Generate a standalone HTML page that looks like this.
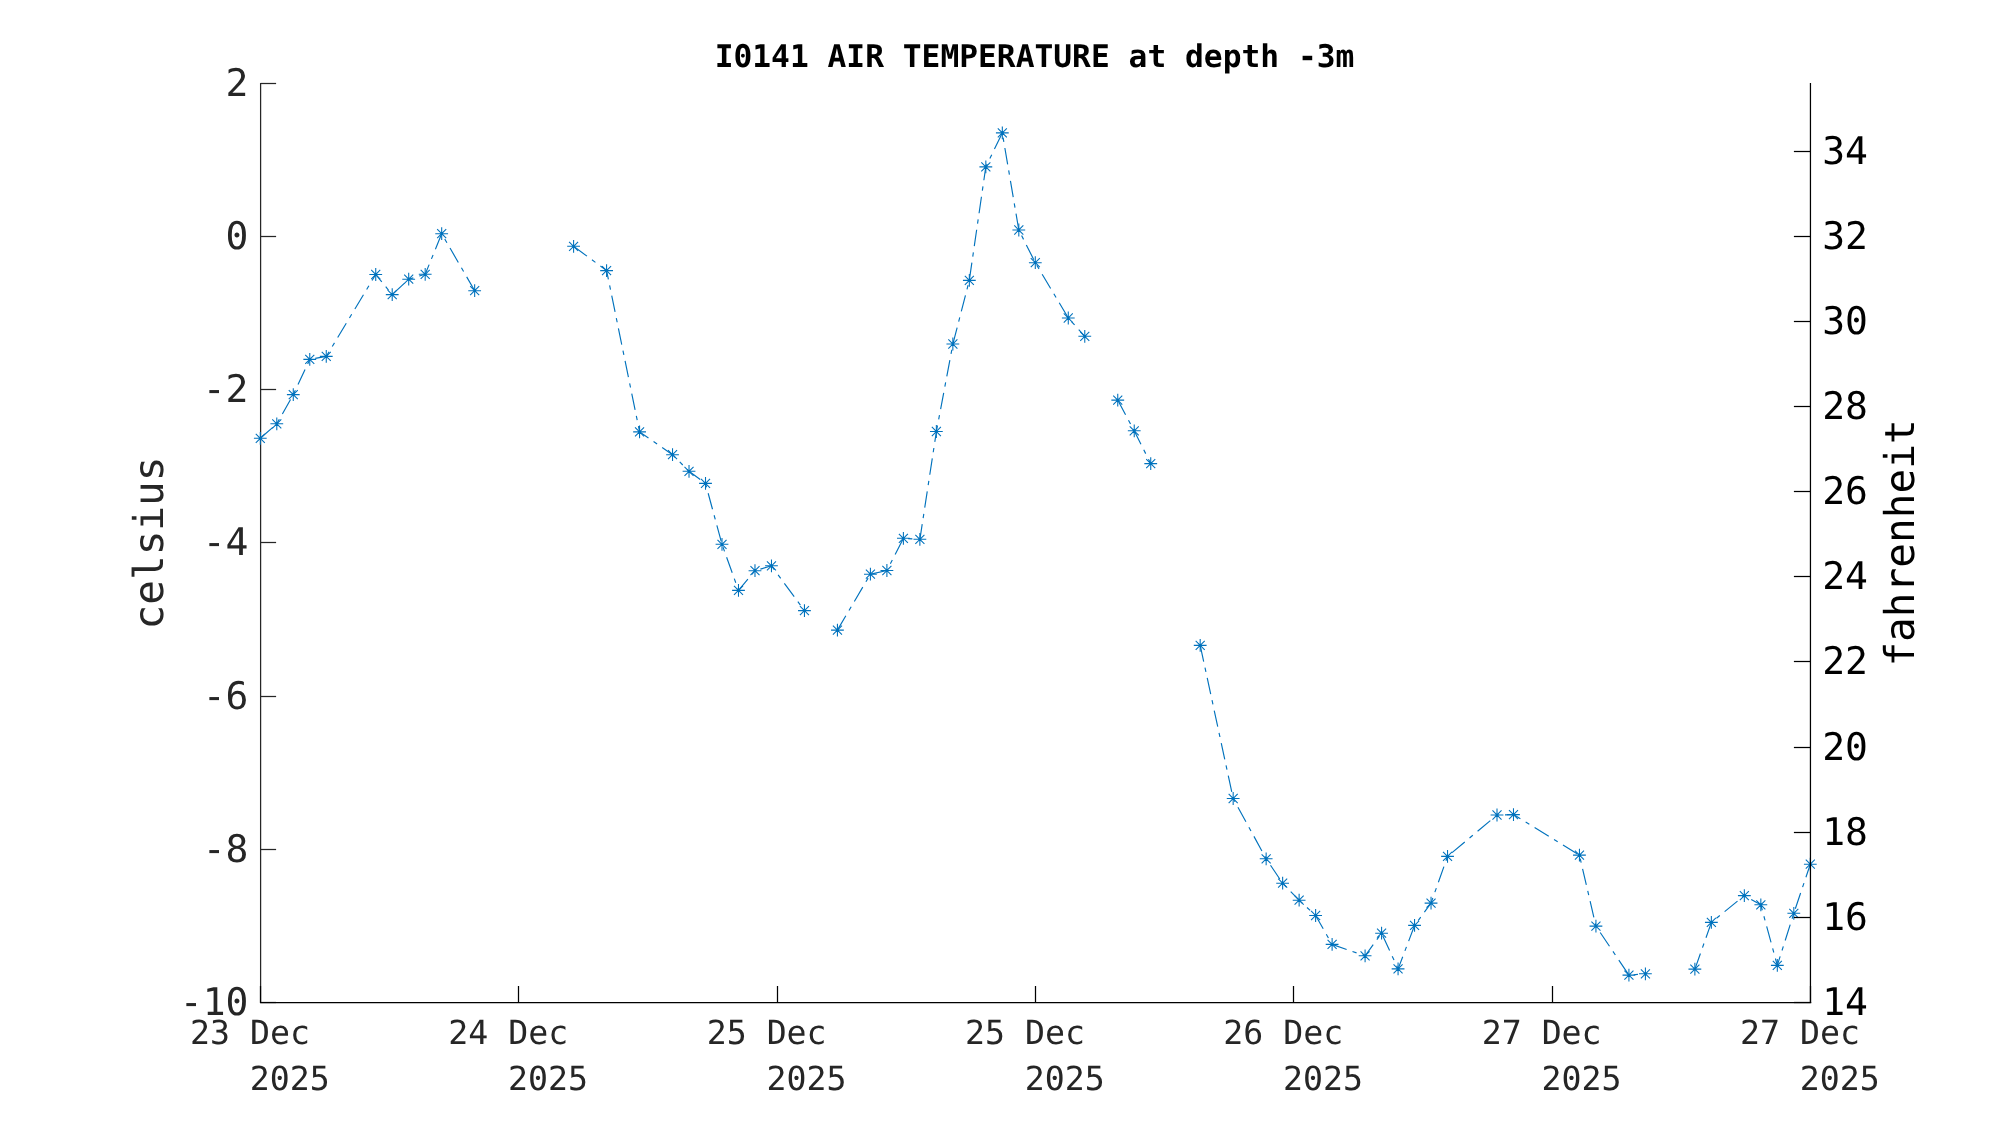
<!DOCTYPE html>
<html lang="en"><head><meta charset="utf-8"><title>I0141 AIR TEMPERATURE at depth -3m</title>
<style>
html,body{margin:0;padding:0;background:#fff;}
body{width:2000px;height:1125px;overflow:hidden;}
svg{display:block;will-change:transform;}
text{font-family:"DejaVu Sans Mono", "Liberation Mono", monospace;text-rendering:geometricPrecision;}
</style></head><body>
<svg width="2000" height="1125" viewBox="0 0 2000 1125">
<rect x="0" y="0" width="2000" height="1125" fill="#ffffff"/>
<text x="1034.5" y="67.0" text-anchor="middle" font-size="31.25" font-weight="bold" fill="#000">I0141 AIR TEMPERATURE at depth -3m</text>
<g stroke="#262626" stroke-width="1.25" fill="none">
<path d="M260.6 82.9V1003.1"/>
<path d="M260.6 83.50h15.5"/>
<path d="M260.6 236.50h15.5"/>
<path d="M260.6 389.50h15.5"/>
<path d="M260.6 542.50h15.5"/>
<path d="M260.6 696.50h15.5"/>
<path d="M260.6 849.50h15.5"/>
<path d="M260.6 1002.50h15.5"/>
</g>
<g fill="none" stroke="#0072BD" stroke-width="1.15" stroke-dasharray="16.6 6.2 4.3 6.2" stroke-linejoin="round">
<polyline points="260.3,438.3 276.8,423.8 293.3,394.6 309.8,359.4 326.3,356.4 375.7,274.5 392.2,294.6 408.7,279.2 425.2,274.3 441.7,233.7 474.7,290.7"/>
<polyline points="573.6,246.3 606.6,270.6 639.6,431.9 672.5,454.7 689.0,471.3 705.5,483.4 722.0,544.3 738.5,590.4 755.0,570.7 771.5,565.8 804.4,610.6"/>
<polyline points="837.4,630.1 870.4,574.2 886.9,570.5 903.4,538.3 919.9,539.3 936.4,431.5 952.9,344.0 969.3,280.4 985.8,166.9 1002.3,132.9 1018.8,230.0 1035.3,262.7 1068.3,318.0 1084.8,336.3"/>
<polyline points="1117.7,400.1 1134.2,430.8 1150.7,463.6"/>
<polyline points="1200.2,645.4 1233.2,798.5 1266.2,858.8 1282.6,883.2 1299.1,900.2 1315.6,915.5 1332.1,944.4 1365.1,955.8 1381.6,933.2 1398.1,968.9 1414.6,925.4 1431.0,903.1 1447.5,856.4 1497.0,815.0 1513.5,814.6 1579.4,855.1 1595.9,926.1 1628.9,975.1 1645.4,973.8"/>
<polyline points="1694.9,969.1 1711.4,922.4 1744.3,895.6 1760.8,904.8 1777.3,965.4 1793.8,913.3 1810.3,864.2"/>
</g>
<path fill="none" stroke="#0072BD" stroke-width="1.08" stroke-linecap="butt" d="M253.90 438.30H266.70M260.30 431.90V444.70M255.77 433.77L264.83 442.83M255.77 442.83L264.83 433.77M270.39 423.80H283.19M276.79 417.40V430.20M272.26 419.27L281.31 428.33M272.26 428.33L281.31 419.27M286.88 394.60H299.68M293.28 388.20V401.00M288.75 390.07L297.80 399.13M288.75 399.13L297.80 390.07M303.37 359.40H316.17M309.77 353.00V365.80M305.24 354.87L314.29 363.93M305.24 363.93L314.29 354.87M319.86 356.40H332.66M326.26 350.00V362.80M321.73 351.87L330.78 360.93M321.73 360.93L330.78 351.87M369.33 274.50H382.13M375.73 268.10V280.90M371.20 269.97L380.25 279.03M371.20 279.03L380.25 269.97M385.81 294.60H398.61M392.21 288.20V301.00M387.69 290.07L396.74 299.13M387.69 299.13L396.74 290.07M402.30 279.20H415.10M408.70 272.80V285.60M404.18 274.67L413.23 283.73M404.18 283.73L413.23 274.67M418.79 274.30H431.59M425.19 267.90V280.70M420.67 269.77L429.72 278.83M420.67 278.83L429.72 269.77M435.28 233.70H448.08M441.68 227.30V240.10M437.16 229.17L446.21 238.23M437.16 238.23L446.21 229.17M468.26 290.70H481.06M474.66 284.30V297.10M470.14 286.17L479.19 295.23M470.14 295.23L479.19 286.17M567.20 246.30H580.00M573.60 239.90V252.70M569.07 241.77L578.12 250.83M569.07 250.83L578.12 241.77M600.18 270.60H612.98M606.58 264.20V277.00M602.05 266.07L611.10 275.13M602.05 275.13L611.10 266.07M633.16 431.90H645.96M639.56 425.50V438.30M635.03 427.37L644.08 436.43M635.03 436.43L644.08 427.37M666.13 454.70H678.93M672.53 448.30V461.10M668.01 450.17L677.06 459.23M668.01 459.23L677.06 450.17M682.62 471.30H695.42M689.02 464.90V477.70M684.50 466.77L693.55 475.83M684.50 475.83L693.55 466.77M699.11 483.40H711.91M705.51 477.00V489.80M700.99 478.87L710.04 487.93M700.99 487.93L710.04 478.87M715.60 544.30H728.40M722.00 537.90V550.70M717.48 539.77L726.53 548.83M717.48 548.83L726.53 539.77M732.09 590.40H744.89M738.49 584.00V596.80M733.97 585.87L743.02 594.93M733.97 594.93L743.02 585.87M748.58 570.70H761.38M754.98 564.30V577.10M750.46 566.17L759.51 575.23M750.46 575.23L759.51 566.17M765.07 565.80H777.87M771.47 559.40V572.20M766.94 561.27L776.00 570.33M766.94 570.33L776.00 561.27M798.05 610.60H810.85M804.45 604.20V617.00M799.92 606.07L808.97 615.13M799.92 615.13L808.97 606.07M831.03 630.10H843.83M837.43 623.70V636.50M832.90 625.57L841.95 634.63M832.90 634.63L841.95 625.57M864.01 574.20H876.81M870.41 567.80V580.60M865.88 569.67L874.93 578.73M865.88 578.73L874.93 569.67M880.50 570.50H893.30M886.90 564.10V576.90M882.37 565.97L891.42 575.03M882.37 575.03L891.42 565.97M896.99 538.30H909.79M903.39 531.90V544.70M898.86 533.77L907.91 542.83M898.86 542.83L907.91 533.77M913.47 539.30H926.27M919.87 532.90V545.70M915.35 534.77L924.40 543.83M915.35 543.83L924.40 534.77M929.96 431.50H942.76M936.36 425.10V437.90M931.84 426.97L940.89 436.03M931.84 436.03L940.89 426.97M946.45 344.00H959.25M952.85 337.60V350.40M948.33 339.47L957.38 348.53M948.33 348.53L957.38 339.47M962.94 280.40H975.74M969.34 274.00V286.80M964.82 275.87L973.87 284.93M964.82 284.93L973.87 275.87M979.43 166.90H992.23M985.83 160.50V173.30M981.31 162.37L990.36 171.43M981.31 171.43L990.36 162.37M995.92 132.90H1008.72M1002.32 126.50V139.30M997.80 128.37L1006.85 137.43M997.80 137.43L1006.85 128.37M1012.41 230.00H1025.21M1018.81 223.60V236.40M1014.29 225.47L1023.34 234.53M1014.29 234.53L1023.34 225.47M1028.90 262.70H1041.70M1035.30 256.30V269.10M1030.77 258.17L1039.83 267.23M1030.77 267.23L1039.83 258.17M1061.88 318.00H1074.68M1068.28 311.60V324.40M1063.75 313.47L1072.80 322.53M1063.75 322.53L1072.80 313.47M1078.37 336.30H1091.17M1084.77 329.90V342.70M1080.24 331.77L1089.29 340.83M1080.24 340.83L1089.29 331.77M1111.35 400.10H1124.15M1117.75 393.70V406.50M1113.22 395.57L1122.27 404.63M1113.22 404.63L1122.27 395.57M1127.84 430.80H1140.64M1134.24 424.40V437.20M1129.71 426.27L1138.76 435.33M1129.71 435.33L1138.76 426.27M1144.33 463.60H1157.13M1150.73 457.20V470.00M1146.20 459.07L1155.25 468.13M1146.20 468.13L1155.25 459.07M1193.79 645.40H1206.59M1200.19 639.00V651.80M1195.67 640.87L1204.72 649.93M1195.67 649.93L1204.72 640.87M1226.77 798.50H1239.57M1233.17 792.10V804.90M1228.65 793.97L1237.70 803.03M1228.65 803.03L1237.70 793.97M1259.75 858.80H1272.55M1266.15 852.40V865.20M1261.63 854.27L1270.68 863.33M1261.63 863.33L1270.68 854.27M1276.24 883.20H1289.04M1282.64 876.80V889.60M1278.11 878.67L1287.17 887.73M1278.11 887.73L1287.17 878.67M1292.73 900.20H1305.53M1299.13 893.80V906.60M1294.60 895.67L1303.66 904.73M1294.60 904.73L1303.66 895.67M1309.22 915.50H1322.02M1315.62 909.10V921.90M1311.09 910.97L1320.14 920.03M1311.09 920.03L1320.14 910.97M1325.71 944.40H1338.51M1332.11 938.00V950.80M1327.58 939.87L1336.63 948.93M1327.58 948.93L1336.63 939.87M1358.69 955.80H1371.49M1365.09 949.40V962.20M1360.56 951.27L1369.61 960.33M1360.56 960.33L1369.61 951.27M1375.18 933.20H1387.98M1381.58 926.80V939.60M1377.05 928.67L1386.10 937.73M1377.05 937.73L1386.10 928.67M1391.67 968.90H1404.47M1398.07 962.50V975.30M1393.54 964.37L1402.59 973.43M1393.54 973.43L1402.59 964.37M1408.16 925.40H1420.96M1414.56 919.00V931.80M1410.03 920.87L1419.08 929.93M1410.03 929.93L1419.08 920.87M1424.64 903.10H1437.44M1431.04 896.70V909.50M1426.52 898.57L1435.57 907.63M1426.52 907.63L1435.57 898.57M1441.13 856.40H1453.93M1447.53 850.00V862.80M1443.01 851.87L1452.06 860.93M1443.01 860.93L1452.06 851.87M1490.60 815.00H1503.40M1497.00 808.60V821.40M1492.48 810.47L1501.53 819.53M1492.48 819.53L1501.53 810.47M1507.09 814.60H1519.89M1513.49 808.20V821.00M1508.97 810.07L1518.02 819.13M1508.97 819.13L1518.02 810.07M1573.05 855.10H1585.85M1579.45 848.70V861.50M1574.92 850.57L1583.97 859.63M1574.92 859.63L1583.97 850.57M1589.54 926.10H1602.34M1595.94 919.70V932.50M1591.41 921.57L1600.46 930.63M1591.41 930.63L1600.46 921.57M1622.52 975.10H1635.32M1628.92 968.70V981.50M1624.39 970.57L1633.44 979.63M1624.39 979.63L1633.44 970.57M1639.01 973.80H1651.81M1645.41 967.40V980.20M1640.88 969.27L1649.93 978.33M1640.88 978.33L1649.93 969.27M1688.47 969.10H1701.27M1694.87 962.70V975.50M1690.35 964.57L1699.40 973.63M1690.35 973.63L1699.40 964.57M1704.96 922.40H1717.76M1711.36 916.00V928.80M1706.84 917.87L1715.89 926.93M1706.84 926.93L1715.89 917.87M1737.94 895.60H1750.74M1744.34 889.20V902.00M1739.82 891.07L1748.87 900.13M1739.82 900.13L1748.87 891.07M1754.43 904.80H1767.23M1760.83 898.40V911.20M1756.31 900.27L1765.36 909.33M1756.31 909.33L1765.36 900.27M1770.92 965.40H1783.72M1777.32 959.00V971.80M1772.80 960.87L1781.85 969.93M1772.80 969.93L1781.85 960.87M1787.41 913.30H1800.21M1793.81 906.90V919.70M1789.29 908.77L1798.34 917.83M1789.29 917.83L1798.34 908.77M1803.90 864.20H1816.70M1810.30 857.80V870.60M1805.77 859.67L1814.83 868.73M1805.77 868.73L1814.83 859.67"/>
<g stroke="#000" stroke-width="1.25" fill="none">
<path d="M259.95000000000005 1002.5H1811.25"/>
<path d="M1810.4499999999998 82.9V1003.1"/>
<path d="M260.50 1002.5v-16.5"/>
<path d="M518.50 1002.5v-16.5"/>
<path d="M777.50 1002.5v-16.5"/>
<path d="M1035.50 1002.5v-16.5"/>
<path d="M1293.50 1002.5v-16.5"/>
<path d="M1552.50 1002.5v-16.5"/>
<path d="M1810.50 1002.5v-16.5"/>
<path d="M1810.6 1002.50h-16.7"/>
<path d="M1810.6 917.50h-16.7"/>
<path d="M1810.6 832.50h-16.7"/>
<path d="M1810.6 747.50h-16.7"/>
<path d="M1810.6 661.50h-16.7"/>
<path d="M1810.6 576.50h-16.7"/>
<path d="M1810.6 491.50h-16.7"/>
<path d="M1810.6 406.50h-16.7"/>
<path d="M1810.6 321.50h-16.7"/>
<path d="M1810.6 236.50h-16.7"/>
<path d="M1810.6 151.50h-16.7"/>
</g>
<g font-size="38.0" fill="#262626" text-anchor="end">
<text transform="translate(248.5 95.8) scale(1 1.0)">2</text>
<text transform="translate(248.5 248.8) scale(1 1.0)">0</text>
<text transform="translate(248.5 401.8) scale(1 1.0)">-2</text>
<text transform="translate(248.5 554.8) scale(1 1.0)">-4</text>
<text transform="translate(248.5 708.8) scale(1 1.0)">-6</text>
<text transform="translate(248.5 861.8) scale(1 1.0)">-8</text>
<text transform="translate(248.5 1014.8) scale(1 1.0)">-10</text>
</g>
<g font-size="38.0" fill="#000" text-anchor="start">
<text transform="translate(1822.2 1014.8) scale(1 1.0)">14</text>
<text transform="translate(1822.2 929.8) scale(1 1.0)">16</text>
<text transform="translate(1822.2 844.8) scale(1 1.0)">18</text>
<text transform="translate(1822.2 759.8) scale(1 1.0)">20</text>
<text transform="translate(1822.2 673.8) scale(1 1.0)">22</text>
<text transform="translate(1822.2 588.8) scale(1 1.0)">24</text>
<text transform="translate(1822.2 503.8) scale(1 1.0)">26</text>
<text transform="translate(1822.2 418.8) scale(1 1.0)">28</text>
<text transform="translate(1822.2 333.8) scale(1 1.0)">30</text>
<text transform="translate(1822.2 248.8) scale(1 1.0)">32</text>
<text transform="translate(1822.2 163.8) scale(1 1.0)">34</text>
</g>
<g font-size="33.2" fill="#262626" text-anchor="start">
<text x="190.0" y="1044.2">23 Dec</text>
<text x="249.8" y="1090.0">2025</text>
<text x="448.3" y="1044.2">24 Dec</text>
<text x="508.1" y="1090.0">2025</text>
<text x="706.7" y="1044.2">25 Dec</text>
<text x="766.5" y="1090.0">2025</text>
<text x="965.0" y="1044.2">25 Dec</text>
<text x="1024.8" y="1090.0">2025</text>
<text x="1223.3" y="1044.2">26 Dec</text>
<text x="1283.1" y="1090.0">2025</text>
<text x="1481.7" y="1044.2">27 Dec</text>
<text x="1541.5" y="1090.0">2025</text>
<text x="1740.0" y="1044.2">27 Dec</text>
<text x="1799.8" y="1090.0">2025</text>
</g>
<text transform="translate(162.5 543) rotate(-90)" text-anchor="middle" font-size="41.07" fill="#262626">celsius</text>
<text transform="translate(1913.6 543) rotate(-90)" text-anchor="middle" font-size="41.07" fill="#000">fahrenheit</text>
</svg>
</body></html>
